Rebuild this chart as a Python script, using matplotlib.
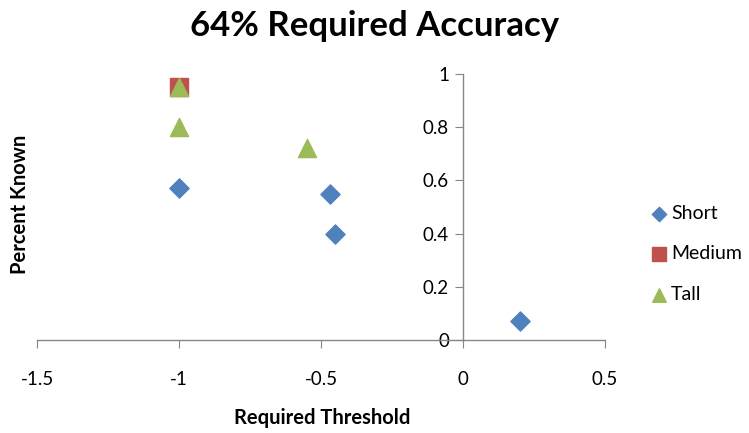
import matplotlib.pyplot as plt

plt.rcParams['font.family'] = ['Lato', 'DejaVu Sans']

short_x = [-1.0, -0.47, -0.45, 0.2]
short_y = [0.57, 0.55, 0.40, 0.07]
medium_x = [-1.0]
medium_y = [0.95]
tall_x = [-1.0, -1.0, -0.55]
tall_y = [0.95, 0.80, 0.72]

x_ticks = [-1.5, -1, -0.5, 0, 0.5]
y_ticks = [0, 0.2, 0.4, 0.6, 0.8, 1]

fig = plt.figure(figsize=(7.49, 4.33), dpi=100)
ax = fig.add_axes([37 / 749, 1 - 340 / 433, (605 - 37) / 749, (340 - 74) / 433])

ax.scatter(short_x, short_y, marker='D', s=95, color='#4F81BD', label='Short', zorder=3)
ax.scatter(medium_x, medium_y, marker='s', s=170, color='#C0504D', label='Medium', zorder=3)
ax.scatter(tall_x, tall_y, marker='^', s=170, color='#9BBB59', label='Tall', zorder=4)

ax.set_xlim(-1.5, 0.5)
ax.set_ylim(0, 1)
ax.set_xticks(x_ticks)
ax.set_xticklabels(['-1.5', '-1', '-0.5', '0', '0.5'])
ax.set_yticks(y_ticks)
ax.set_yticklabels(['0', '0.2', '0.4', '0.6', '0.8', '1'])

for side in ['top', 'right']:
    ax.spines[side].set_visible(False)
ax.spines['left'].set_position(('data', 0))
ax.spines['bottom'].set_position(('data', 0))
for side in ['left', 'bottom']:
    ax.spines[side].set_color('#868686')
    ax.spines[side].set_linewidth(1.0)
ax.tick_params(axis='both', colors='#868686', labelcolor='black', labelsize=13.5,
               length=6, direction='out')
ax.tick_params(axis='x', pad=16)
ax.tick_params(axis='y', pad=4)

fig.text(0.5, 1 - 26 / 433, '64% Required Accuracy', ha='center', va='center',
         fontsize=25, fontweight='bold')
fig.text(20 / 749, 1 - 204 / 433, 'Percent Known', rotation=90, ha='center',
         va='center', fontsize=14.5, fontweight='bold')
fig.text(322 / 749, 1 - 418 / 433, 'Required Threshold', ha='center', va='center',
         fontsize=14.5, fontweight='bold')

fig.legend(loc='center left', bbox_to_anchor=(632 / 749, 1 - 254 / 433),
           frameon=False, fontsize=14, handletextpad=0.1, labelspacing=1.2,
           handlelength=1.0, markerscale=0.75)

fig.savefig('out.png', dpi=100)
